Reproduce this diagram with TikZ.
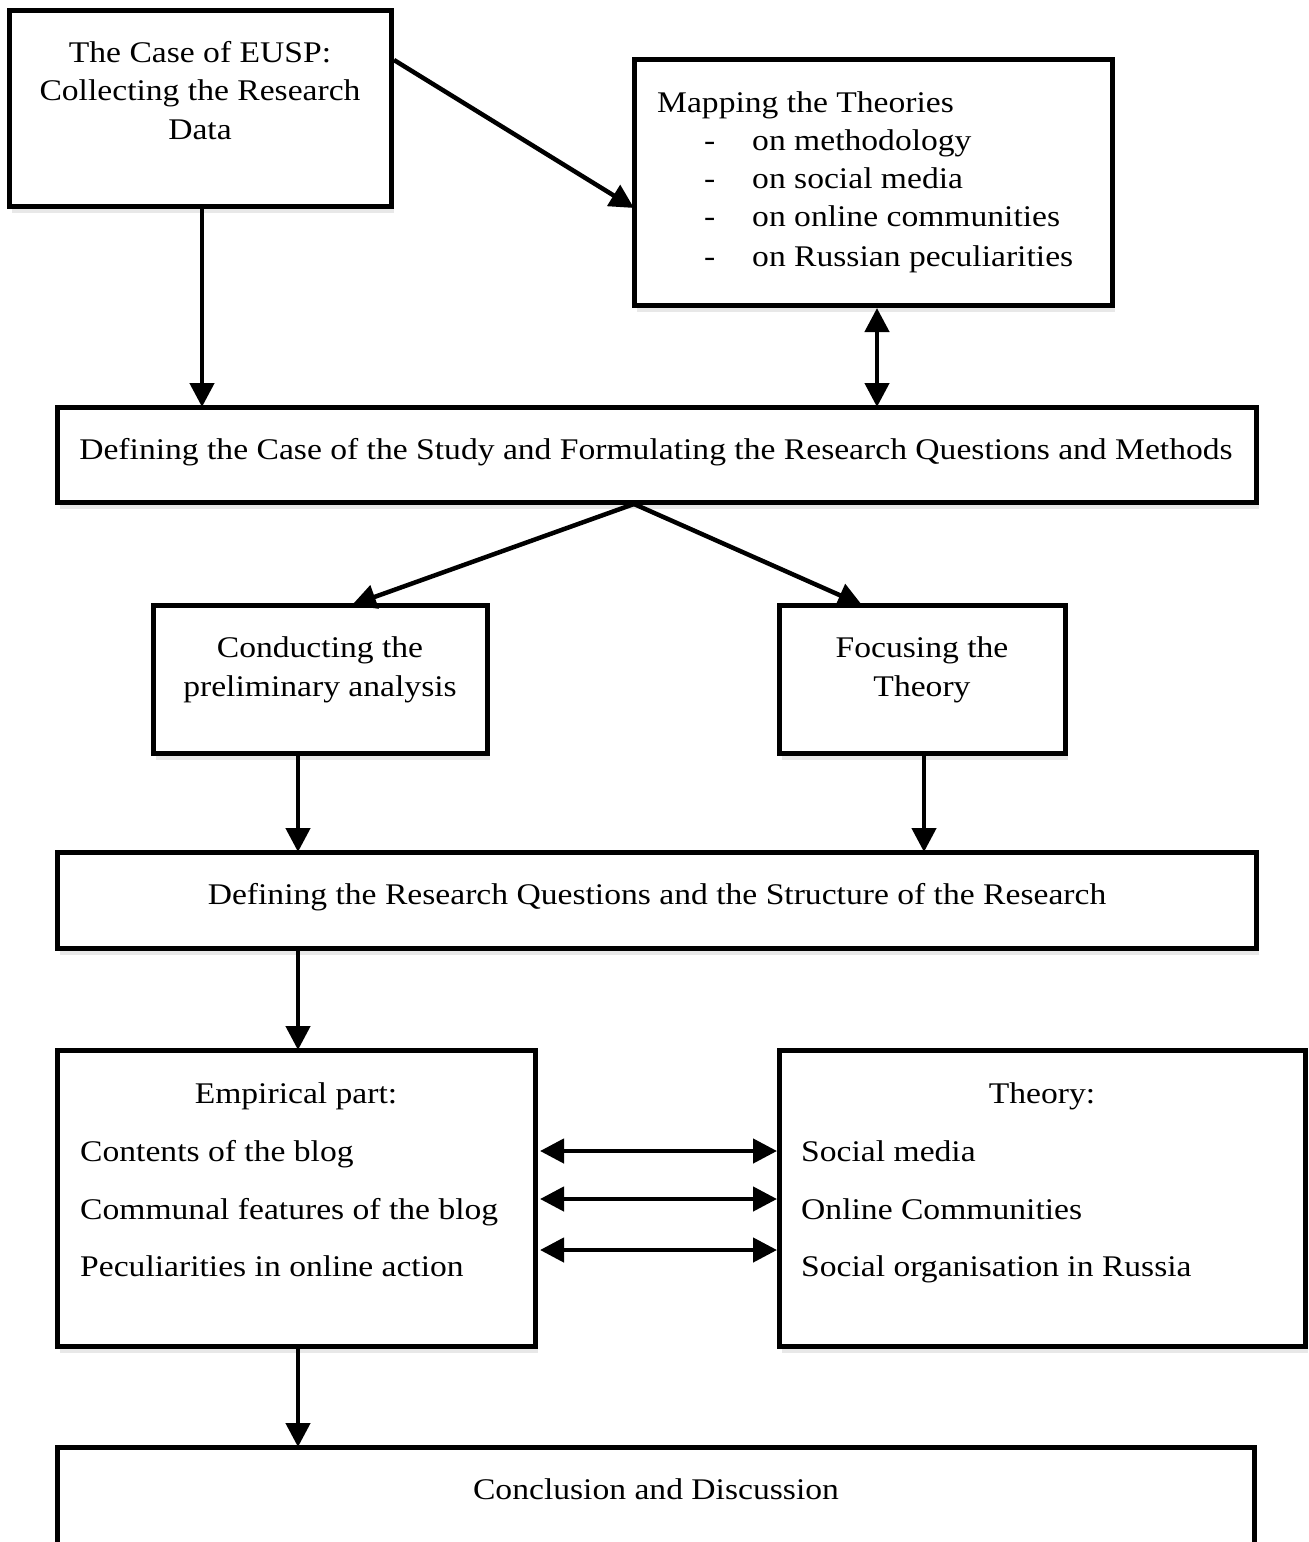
\documentclass[tikz,border=0pt]{standalone}
\usepackage{fontspec}
\setmainfont{Liberation Serif}[FakeStretch=1.12]
\usetikzlibrary{arrows.meta,shadows}
\begin{document}
\begin{tikzpicture}[x=1pt,y=-1pt,
  box/.style={draw, line width=5pt, fill=white, rectangle, inner sep=0pt, outer sep=0pt, anchor=north west,
    drop shadow={opacity=0.18, shadow xshift=3pt, shadow yshift=-7pt}},
  txt/.style={font=\fontsize{30}{39}\selectfont, inner sep=0pt, anchor=base},
  ltxt/.style={txt, anchor=base west},
  arr/.style={line width=4.5pt, -{Triangle[length=24pt,width=24pt]}},
  darr/.style={line width=4.5pt, {Triangle[length=24pt,width=24pt]}-{Triangle[length=24pt,width=24pt]}}]
\useasboundingbox (0,0) rectangle (1309,1542);
\clip (0,0) rectangle (1309,1542);
% boxes
\node[box, minimum width=382pt, minimum height=196pt] (A) at (9,10) {};
\node[box, minimum width=478pt, minimum height=246pt] (B) at (634,59) {};
\node[box, minimum width=1199pt, minimum height=95pt] (C) at (57,407) {};
\node[box, minimum width=334pt, minimum height=148pt] (D) at (153,605) {};
\node[box, minimum width=286pt, minimum height=148pt] (E) at (779,605) {};
\node[box, minimum width=1199pt, minimum height=96pt] (F) at (57,852) {};
\node[box, minimum width=478pt, minimum height=296pt] (G) at (57,1050) {};
\node[box, minimum width=526pt, minimum height=296pt] (H) at (779,1050) {};
\node[box, minimum width=1197pt, minimum height=160pt] (I) at (57,1447) {};
% texts
\node[txt] (a1) at (200,62) {The Case of EUSP:};
\node[txt] (a2) at (200,100) {Collecting the Research};
\node[txt] (a3) at (200,139) {Data};
\node[ltxt] (b0) at (657,112) {Mapping the Theories};
\node[ltxt] (bd1) at (704,150) {-};
\node[ltxt] (bd2) at (704,188) {-};
\node[ltxt] (bd3) at (704,226) {-};
\node[ltxt] (bd4) at (704,266) {-};
\node[ltxt] (b1) at (752,150) {on methodology};
\node[ltxt] (b2) at (752,188) {on social media};
\node[ltxt] (b3) at (752,226) {on online communities};
\node[ltxt] (b4) at (752,266) {on Russian peculiarities};
\node[txt] (c1) at (656,459) {Defining the Case of the Study and Formulating the Research Questions and Methods};
\node[txt] (d1t) at (320,657) {Conducting the};
\node[txt] (d2t) at (320,696) {preliminary analysis};
\node[txt] (e1t) at (922,657) {Focusing the};
\node[txt] (e2t) at (922,696) {Theory};
\node[txt] (f1t) at (657,904) {Defining the Research Questions and the Structure of the Research};
\node[txt] (g0) at (296,1103) {Empirical part:};
\node[ltxt] (g1) at (80,1161) {Contents of the blog};
\node[ltxt] (g2) at (80,1219) {Communal features of the blog};
\node[ltxt] (g3) at (80,1276) {Peculiarities in online action};
\node[txt] (h0) at (1042,1103) {Theory:};
\node[ltxt] (h1) at (801,1161) {Social media};
\node[ltxt] (h2) at (801,1219) {Online Communities};
\node[ltxt] (h3) at (801,1276) {Social organisation in Russia};
\node[txt] (i1) at (656,1499) {Conclusion and Discussion};
% helper coordinates
\coordinate (ab1) at (0,60);
\coordinate (ab2) at (0,208);
\coordinate (split) at (634,504);
\coordinate (dx) at (298,0);
\coordinate (bx) at (877,0);
\coordinate (r1) at (0,1151);
\coordinate (r2) at (0,1199);
\coordinate (r3) at (0,1250);
% connectors
\draw[arr] ([xshift=3pt]A.east |- ab1) -- (B.west |- ab2);
\draw[arr] ([xshift=2pt]A.south) -- ([xshift=2pt]A.south |- C.north);
\draw[darr] ([yshift=-3pt]bx |- B.south) -- (bx |- C.north);
\draw[arr] (split) -- ([xshift=32pt]D.north);
\draw[arr] (split) -- ([xshift=-60pt]E.north);
\draw[arr] (dx |- D.south) -- (dx |- F.north);
\draw[arr] ([xshift=2pt]E.south) -- ([xshift=2pt]E.south |- F.north);
\draw[arr] (dx |- F.south) -- (dx |- G.north);
\draw[darr] ([xshift=5pt]G.east |- r1) -- ([xshift=-2pt]H.west |- r1);
\draw[darr] ([xshift=5pt]G.east |- r2) -- ([xshift=-2pt]H.west |- r2);
\draw[darr] ([xshift=5pt]G.east |- r3) -- ([xshift=-2pt]H.west |- r3);
\draw[arr] (dx |- G.south) -- (dx |- I.north);
\end{tikzpicture}
\end{document}
